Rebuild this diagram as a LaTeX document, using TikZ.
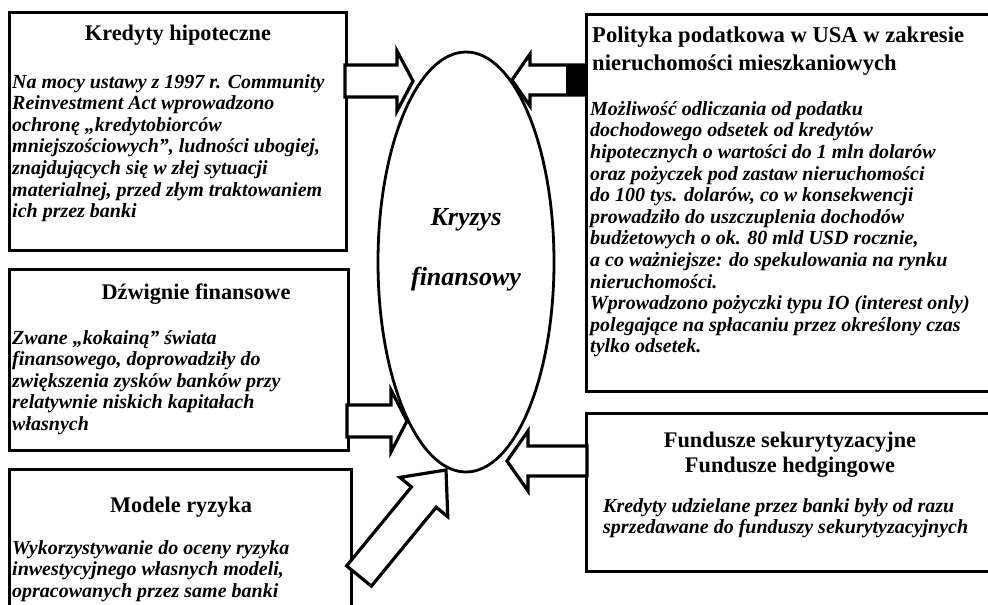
\documentclass[tikz,border=0pt]{standalone}
\usepackage{fontspec}
\setmainfont{Liberation Serif}
\usetikzlibrary{shapes.geometric,calc}
\tikzset{
  panel/.style={draw, line width=3pt, anchor=north west, inner sep=0pt},
  headtxt/.style={font=\fontsize{22.3}{26}\selectfont\bfseries, inner sep=0pt, align=center},
  bodytxt/.style={font=\fontsize{20}{21.6}\selectfont\bfseries\itshape, inner sep=0pt, align=left, anchor=north west},
  crisistxt/.style={font=\fontsize{26}{30}\selectfont\bfseries\itshape, inner sep=0pt, anchor=base},
  barrow/.style={draw, line width=3.2pt, fill=white, line join=miter, miter limit=6},
}
\newcommand\blockarrow[5]{%
  \coordinate (hb) at ($(#2)!#5!(#1)$);
  \draw[barrow] ($(#1)!#3!90:(#2)$) -- ($(hb)!#3!-90:(#1)$) -- ($(hb)!#4!-90:(#1)$) -- (#2)
    -- ($(hb)!#4!90:(#1)$) -- ($(hb)!#3!90:(#1)$) -- ($(#1)!#3!-90:(#2)$) -- cycle;
}
\begin{document}
\begin{tikzpicture}[x=1pt,y=-1pt]
\useasboundingbox (0,0) rectangle (988,605);
\clip (0,0) rectangle (988,605);
\fill[white] (0,0) rectangle (988,605);

% panels
\node[panel, minimum width=337pt, minimum height=238pt] (kred) at (8,11) {};
\node[panel, minimum width=339pt, minimum height=181pt] (dzw) at (8,268) {};
\node[panel, minimum width=342pt, minimum height=170pt] (mod) at (8,468) {};
\node[panel, minimum width=420pt, minimum height=377pt] (pol) at (585,13) {};
\node[panel, minimum width=420pt, minimum height=158pt] (fun) at (585,412) {};
\node[ellipse, draw, line width=2.8pt, minimum width=176pt, minimum height=420pt, inner sep=0pt] (kryz) at (466,262) {};

% central text
\node[crisistxt] (kryzA) at (466,225) {Kryzys};
\node[crisistxt] (kryzB) at (466,285) {finansowy};

% headings
\node[headtxt, anchor=base] (kredH) at (178,40) {Kredyty hipoteczne};
\node[headtxt, anchor=base] (dzwH) at (196,299) {Dźwignie finansowe};
\node[headtxt, anchor=base] (modH) at (181,512) {Modele ryzyka};
\node[headtxt, align=left, anchor=north west, font=\fontsize{22.6}{28}\selectfont\bfseries] (polH) at (592,27)
  {Polityka podatkowa w USA w zakresie\\nieruchomości mieszkaniowych};
\node[headtxt, anchor=north, font=\fontsize{22.3}{25}\selectfont\bfseries] (funH) at (790,432)
  {Fundusze sekurytyzacyjne\\Fundusze hedgingowe};

% bodies
\node[bodytxt] (kredB) at (12,74) {Na mocy ustawy z 1997 r. Community\\
Reinvestment Act wprowadzono\\
ochronę „kredytobiorców\\
mniejszościowych”, ludności ubogiej,\\
znajdujących się w złej sytuacji\\
materialnej, przed złym traktowaniem\\
ich przez banki};
\node[bodytxt] (dzwB) at (12,330) {Zwane „kokainą” świata\\
finansowego, doprowadziły do\\
zwiększenia zysków banków przy\\
relatywnie niskich kapitałach\\
własnych};
\node[bodytxt] (modB) at (12,540) {Wykorzystywanie do oceny ryzyka\\
inwestycyjnego własnych modeli,\\
opracowanych przez same banki};
\node[bodytxt] (polB) at (590,101) {Możliwość odliczania od podatku\\
dochodowego odsetek od kredytów\\
hipotecznych o wartości do 1 mln dolarów\\
oraz pożyczek pod zastaw nieruchomości\\
do 100 tys. dolarów, co w konsekwencji\\
prowadziło do uszczuplenia dochodów\\
budżetowych o ok. 80 mld USD rocznie,\\
a co ważniejsze: do spekulowania na rynku\\
nieruchomości.\\
Wprowadzono pożyczki typu IO (interest only)\\
polegające na spłacaniu przez określony czas\\
tylko odsetek.};
\node[bodytxt] (funB) at (603,498) {Kredyty udzielane przez banki były od razu\\
sprzedawane do funduszy sekurytyzacyjnych};

% arrow end points
\coordinate (a1s) at (345,81);  \coordinate (a1e) at (413,81);
\coordinate (a2s) at (347,421); \coordinate (a2e) at (407,421);
\coordinate (a3s) at (359,576); \coordinate (a3e) at (446,470);
\coordinate (a4s) at (585,80);  \coordinate (a4e) at (512,80);
\coordinate (a5s) at (587,461); \coordinate (a5e) at (507,461);

\blockarrow{a1s}{a1e}{16pt}{30pt}{16pt}
\blockarrow{a2s}{a2e}{16pt}{31pt}{16pt}
\blockarrow{a3s}{a3e}{16pt}{31pt}{35pt}
\blockarrow{a4s}{a4e}{15pt}{26pt}{18pt}
\fill (566,66) rectangle (585,94);
\blockarrow{a5s}{a5e}{15pt}{30pt}{21pt}
\end{tikzpicture}
\end{document}
